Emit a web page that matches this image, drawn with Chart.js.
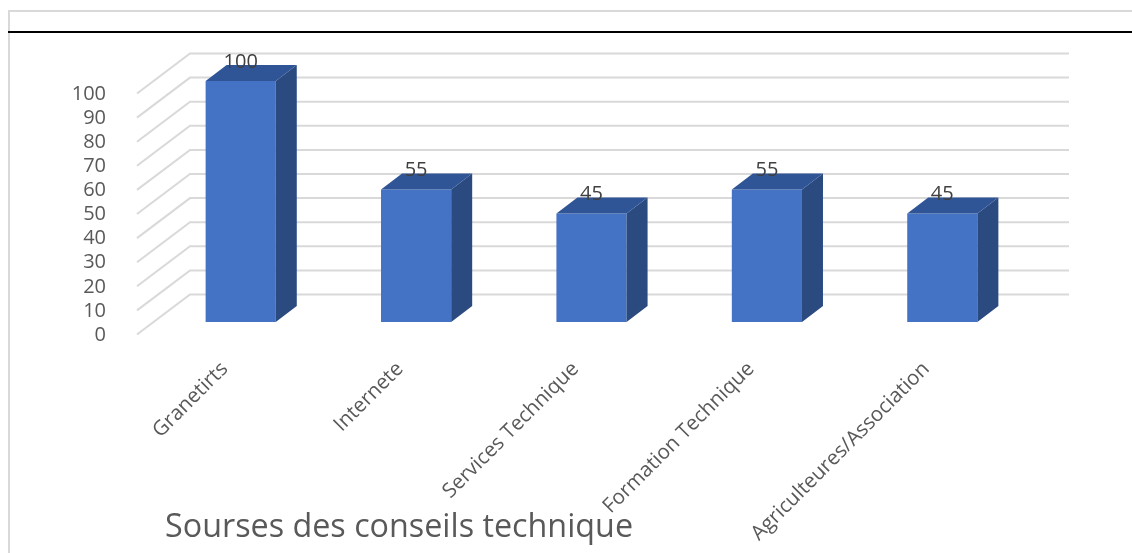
<!DOCTYPE html>
<html>
<head>
<meta charset="utf-8">
<script src="https://cdn.jsdelivr.net/npm/chart.js@4.4.1/dist/chart.umd.min.js"></script>
<style>
  html, body { margin: 0; padding: 0; background: #ffffff; }
  #wrap { position: relative; width: 1132px; height: 553px; }
</style>
</head>
<body>
<div id="wrap"><canvas id="chart" width="1132" height="553"></canvas></div>
<script>
// Data
const categories = ['Granetirts', 'Internete', 'Services Technique', 'Formation Technique', 'Agriculteures/Association'];
const values = [100, 55, 45, 55, 45];
const yMin = 0;
const yMax = 100;
const yStep = 10;
const chartTitle = 'Sourses des conseils technique';

// Styling
const FONT = '"Open Sans", "Segoe UI", sans-serif';
const FRONT = '#4472C4';
const TOP = '#2F5597';
const SIDE = '#2A4A80';
const GRID = '#D9D9D9';
const TEXT = '#595959';

// Depth geometry of the pseudo-3D view
const wallBack = { dx: 37, dy: -27.5 };   // back wall relative to the bar front plane
const wallFront = { dx: -16, dy: 12.5 };  // floor front edge relative to the bar front plane
const barDepth = { dx: 21, dy: -16 };     // depth of each column

const depth3d = {
  id: 'depth3d',
  beforeDraw(chart) {
    const ctx = chart.ctx;
    ctx.save();
    ctx.fillStyle = '#ffffff';
    ctx.fillRect(0, 0, chart.width, chart.height);
    // outer frame
    ctx.strokeStyle = '#D9D9D9';
    ctx.lineWidth = 2;
    ctx.beginPath();
    ctx.moveTo(9, chart.height + 2);
    ctx.lineTo(9, 11);
    ctx.lineTo(chart.width + 2, 11);
    ctx.stroke();
    // heading rule
    ctx.strokeStyle = '#000000';
    ctx.lineWidth = 2;
    ctx.beginPath();
    ctx.moveTo(8, 32);
    ctx.lineTo(chart.width, 32);
    ctx.stroke();
    ctx.restore();
  },
  beforeDatasetsDraw(chart) {
    const ctx = chart.ctx;
    const y = chart.scales.y;
    const area = chart.chartArea;
    ctx.save();
    ctx.strokeStyle = GRID;
    ctx.lineWidth = 2;
    y.ticks.forEach(t => {
      const py = y.getPixelForValue(t.value);
      ctx.beginPath();
      ctx.moveTo(area.left + wallFront.dx, py + wallFront.dy);
      ctx.lineTo(area.left + wallBack.dx, py + wallBack.dy);
      ctx.lineTo(area.right + wallBack.dx + 2, py + wallBack.dy);
      ctx.stroke();
    });
    ctx.restore();
  },
  afterDatasetsDraw(chart) {
    const ctx = chart.ctx;
    const meta = chart.getDatasetMeta(0);
    ctx.save();
    meta.data.forEach((bar, i) => {
      const p = bar.getProps(['x', 'y', 'base', 'width'], true);
      const l = p.x - p.width / 2;
      const r = p.x + p.width / 2;
      // side face
      ctx.fillStyle = SIDE;
      ctx.beginPath();
      ctx.moveTo(r, p.y);
      ctx.lineTo(r + barDepth.dx, p.y + barDepth.dy);
      ctx.lineTo(r + barDepth.dx, p.base + barDepth.dy);
      ctx.lineTo(r, p.base);
      ctx.closePath();
      ctx.fill();
      // top face
      ctx.fillStyle = TOP;
      ctx.beginPath();
      ctx.moveTo(l, p.y);
      ctx.lineTo(l + barDepth.dx, p.y + barDepth.dy);
      ctx.lineTo(r + barDepth.dx, p.y + barDepth.dy);
      ctx.lineTo(r, p.y);
      ctx.closePath();
      ctx.fill();
      // value label
      ctx.fillStyle = '#404040';
      ctx.font = '20px ' + FONT;
      ctx.textAlign = 'center';
      ctx.textBaseline = 'middle';
      ctx.fillText(String(values[i]), p.x, p.y - 19);
    });
    // chart title
    ctx.fillStyle = TEXT;
    ctx.font = '32.3px ' + FONT;
    ctx.textAlign = 'left';
    ctx.textBaseline = 'middle';
    ctx.fillText(chartTitle, 165, 528);
    ctx.restore();
  }
};

new Chart(document.getElementById('chart'), {
  type: 'bar',
  data: {
    labels: categories,
    datasets: [{
      data: values,
      backgroundColor: FRONT,
      borderWidth: 0,
      barPercentage: 0.4,
      categoryPercentage: 1.0
    }]
  },
  options: {
    responsive: false,
    animation: false,
    devicePixelRatio: 1,
    layout: { padding: { left: 0, right: 102, top: 81, bottom: 0 } },
    plugins: {
      legend: { display: false },
      title: { display: false },
      tooltip: { enabled: false }
    },
    scales: {
      x: {
        grid: { display: false },
        border: { display: false },
        ticks: {
          color: TEXT,
          font: { family: FONT, size: 20.5 },
          minRotation: 45,
          maxRotation: 45,
          autoSkip: false,
          padding: 27,
          labelOffset: -16
        },
        afterFit(scale) { scale.height = 231; }
      },
      y: {
        min: yMin,
        max: yMax,
        grid: { display: false },
        border: { display: false },
        ticks: {
          stepSize: yStep,
          autoSkip: false,
          color: TEXT,
          font: { family: FONT, size: 20 },
          padding: 39,
          labelOffset: 13
        },
        afterFit(scale) { scale.width = 153; }
      }
    }
  },
  plugins: [depth3d]
});
</script>
</body>
</html>
